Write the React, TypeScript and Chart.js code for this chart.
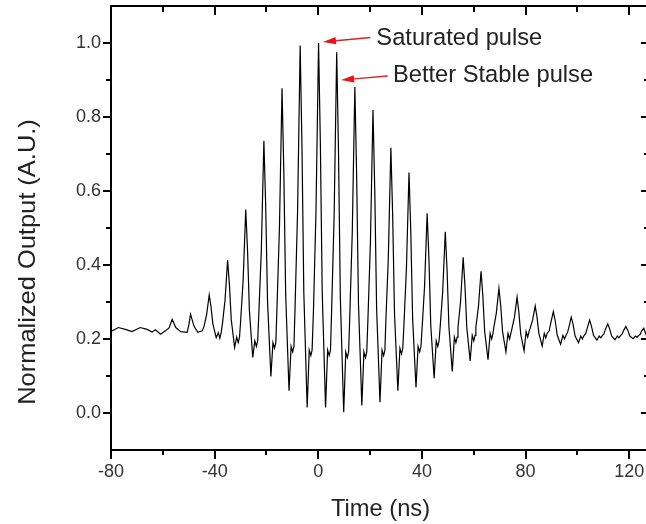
import React, { useEffect, useRef } from 'react';
import { Chart, registerables } from 'chart.js';

Chart.register(...registerables);

// Time axis (ns) and normalized output
const timeNs = [
  -80, -79.6, -77.1, -74.5, -71.9, -68.7, -66.1, -64.1, -62.9, -60.9, -59.0, -57.6,
  -56.4, -55.0, -53.1, -50.6, -49.9, -49.3, -48.0, -46.5, -44.8,
  -44.1, -43.1, -42.1, -41.4, -40.7, -39.4, -38.6, -38.0, -37.5,
  -37.0, -36.0, -35.0, -34.3, -33.6, -32.3, -31.5, -30.9, -30.4,
  -30.0, -29.0, -28.0, -27.3, -26.6, -25.3, -24.5, -23.9, -23.4,
  -23.0, -22.0, -21.0, -20.3, -19.6, -18.3, -17.5, -16.9, -16.4,
  -16.0, -15.0, -14.0, -13.3, -12.6, -11.3, -10.5, -9.9, -9.4,
  -9.0, -8.0, -7.0, -6.3, -5.6, -4.3, -3.5, -2.9, -2.4,
  -1.9, -0.9, 0.1, 0.8, 1.5, 2.8, 3.6, 4.2, 4.7,
  5.1, 6.1, 7.1, 7.8, 8.5, 9.8, 10.6, 11.2, 11.7,
  12.1, 13.1, 14.1, 14.8, 15.5, 16.8, 17.6, 18.2, 18.7,
  19.1, 20.1, 21.1, 21.8, 22.5, 23.8, 24.6, 25.2, 25.7,
  26.0, 27.0, 28.0, 28.7, 29.4, 30.7, 31.5, 32.1, 32.6,
  33.0, 34.0, 35.0, 35.7, 36.4, 37.7, 38.5, 39.1, 39.6,
  40.0, 41.0, 42.0, 42.7, 43.4, 44.7, 45.5, 46.1, 46.6,
  47.0, 48.0, 49.0, 49.7, 50.4, 51.7, 52.5, 53.1, 53.6,
  53.9, 54.9, 55.9, 56.6, 57.3, 58.6, 59.4, 60.0, 60.5,
  60.8, 61.8, 62.8, 63.5, 64.2, 65.5, 66.3, 66.9, 67.4,
  67.7, 68.7, 69.7, 70.4, 71.1, 72.4, 73.2, 73.8, 74.3,
  74.7, 75.7, 76.7, 77.4, 78.1, 79.4, 80.2, 80.8, 81.3,
  81.7, 82.7, 83.7, 84.4, 85.1, 86.4, 87.2, 87.8, 88.3,
  89.1, 89.7, 90.7, 91.4, 92.2, 93.5, 94.4, 95.0, 95.6,
  96.2, 96.8, 97.6, 98.3, 99.1, 100.4, 101.3, 101.9, 102.6,
  103.2, 103.9, 104.7, 105.4, 106.2, 107.5, 108.4, 109.0, 109.7,
  110.2, 110.9, 111.7, 112.4, 113.2, 114.5, 115.4, 116.0, 116.7,
  117.2, 117.9, 118.7, 119.4, 120.2, 121.5, 122.4, 123.0, 123.7,
  124.2, 124.8, 125.6, 126.3, 127.2, 128.0,
];

const output = [
  0.224, 0.222, 0.231, 0.226, 0.220, 0.231, 0.226, 0.219, 0.225, 0.213, 0.222, 0.230,
  0.253, 0.231, 0.220, 0.218, 0.240, 0.267, 0.235, 0.218, 0.222,
  0.234, 0.266, 0.319, 0.287, 0.241, 0.204, 0.217, 0.202, 0.217,
  0.241, 0.305, 0.413, 0.347, 0.253, 0.177, 0.205, 0.190, 0.205,
  0.246, 0.360, 0.550, 0.438, 0.278, 0.150, 0.195, 0.180, 0.195,
  0.260, 0.438, 0.736, 0.558, 0.303, 0.099, 0.190, 0.175, 0.190,
  0.273, 0.500, 0.878, 0.649, 0.322, 0.060, 0.180, 0.165, 0.180,
  0.278, 0.546, 0.993, 0.719, 0.328, 0.015, 0.170, 0.155, 0.170,
  0.270, 0.544, 1.000, 0.724, 0.330, 0.015, 0.170, 0.155, 0.170,
  0.267, 0.532, 0.975, 0.703, 0.313, 0.002, 0.165, 0.150, 0.165,
  0.251, 0.487, 0.881, 0.640, 0.296, 0.020, 0.165, 0.150, 0.165,
  0.243, 0.459, 0.819, 0.598, 0.282, 0.029, 0.170, 0.155, 0.170,
  0.236, 0.416, 0.717, 0.533, 0.270, 0.060, 0.175, 0.160, 0.175,
  0.232, 0.389, 0.650, 0.487, 0.255, 0.069, 0.180, 0.165, 0.180,
  0.223, 0.342, 0.540, 0.415, 0.237, 0.094, 0.195, 0.180, 0.195,
  0.230, 0.328, 0.490, 0.384, 0.233, 0.112, 0.205, 0.190, 0.205,
  0.231, 0.302, 0.421, 0.343, 0.231, 0.141, 0.210, 0.195, 0.210,
  0.231, 0.288, 0.383, 0.316, 0.220, 0.144, 0.215, 0.200, 0.215,
  0.230, 0.270, 0.337, 0.289, 0.220, 0.165, 0.215, 0.200, 0.215,
  0.227, 0.259, 0.313, 0.272, 0.214, 0.168, 0.220, 0.205, 0.220,
  0.228, 0.251, 0.289, 0.259, 0.216, 0.181, 0.215, 0.203, 0.215,
  0.222, 0.243, 0.274, 0.250, 0.210, 0.186, 0.210, 0.200, 0.210,
  0.218, 0.235, 0.259, 0.240, 0.208, 0.190, 0.208, 0.200, 0.210,
  0.215, 0.232, 0.251, 0.235, 0.210, 0.197, 0.208, 0.203, 0.210,
  0.214, 0.228, 0.241, 0.228, 0.208, 0.198, 0.208, 0.203, 0.210,
  0.213, 0.224, 0.234, 0.224, 0.208, 0.201, 0.208, 0.205, 0.210,
  0.212, 0.222, 0.229, 0.215, 0.202, 0.204,
];

const xTicks = [-80, -40, 0, 40, 80, 120];
const xMinorTicks = [-60, -20, 20, 60, 100];
const yTicks = [0, 0.2, 0.4, 0.6, 0.8, 1.0];
const yMinorTicks = [0.1, 0.3, 0.5, 0.7, 0.9];

const xTitle = 'Time (ns)';
const yTitle = 'Normalized Output (A.U.)';

const annotationTexts = ['Saturated pulse', 'Better Stable pulse'];
// [tipX, tipY, tailX, tailY, textX, textBaselineY] in data units
const annotationAnchors = [
  [1.8, 1.003, 20.1, 1.015, 22.4, 0.995],
  [8.8, 0.9, 26.8, 0.911, 28.8, 0.894],
];

const FONT = "'Liberation Sans', Arial, Helvetica, sans-serif";

const framePlugin = {
  id: 'originFrame',
  afterDatasetsDraw(chart: any) {
    const { ctx, chartArea } = chart;
    const { left, right, top, bottom } = chartArea;
    const xs = chart.scales.x;
    const ys = chart.scales.y;
    ctx.save();
    ctx.strokeStyle = '#000';
    ctx.lineWidth = 2;
    ctx.strokeRect(left, top, right - left, bottom - top);
    ctx.beginPath();
    xTicks.forEach((v) => {
      const p = Math.round(xs.getPixelForValue(v));
      ctx.moveTo(p, bottom); ctx.lineTo(p, bottom + 9);
      ctx.moveTo(p, top); ctx.lineTo(p, top + 9);
    });
    xMinorTicks.forEach((v) => {
      const p = Math.round(xs.getPixelForValue(v));
      ctx.moveTo(p, bottom); ctx.lineTo(p, bottom + 5);
      ctx.moveTo(p, top); ctx.lineTo(p, top + 6);
    });
    yTicks.forEach((v) => {
      const p = Math.round(ys.getPixelForValue(v));
      ctx.moveTo(left, p); ctx.lineTo(left - 8, p);
      ctx.moveTo(right, p); ctx.lineTo(right - 9, p);
    });
    yMinorTicks.forEach((v) => {
      const p = Math.round(ys.getPixelForValue(v));
      ctx.moveTo(left, p); ctx.lineTo(left - 5, p);
      ctx.moveTo(right, p); ctx.lineTo(right - 6, p);
    });
    ctx.stroke();

    // annotations
    annotationTexts.forEach((txt, i) => {
      const a = annotationAnchors[i];
      const tx = xs.getPixelForValue(a[0]);
      const ty = ys.getPixelForValue(a[1]);
      const sx = xs.getPixelForValue(a[2]);
      const sy = ys.getPixelForValue(a[3]);
      const ang = Math.atan2(ty - sy, tx - sx);
      const headLen = 13;
      const headW = 3.6;
      const bx = tx - headLen * Math.cos(ang);
      const by = ty - headLen * Math.sin(ang);
      ctx.strokeStyle = '#cc2a2a';
      ctx.lineWidth = 1.4;
      ctx.beginPath();
      ctx.moveTo(sx, sy);
      ctx.lineTo(bx, by);
      ctx.stroke();
      ctx.fillStyle = '#ee1111';
      ctx.beginPath();
      ctx.moveTo(tx, ty);
      ctx.lineTo(bx + headW * Math.sin(ang), by - headW * Math.cos(ang));
      ctx.lineTo(bx - headW * Math.sin(ang), by + headW * Math.cos(ang));
      ctx.closePath();
      ctx.fill();

      ctx.fillStyle = '#222';
      ctx.font = `23.7px ${FONT}`;
      ctx.textAlign = 'left';
      ctx.textBaseline = 'alphabetic';
      ctx.fillText(txt, xs.getPixelForValue(a[4]), ys.getPixelForValue(a[5]));
    });

    // y axis title (slightly stretched along its length, like the source image)
    ctx.save();
    ctx.translate(28, 262);
    ctx.rotate(-Math.PI / 2);
    ctx.scale(1.06, 1);
    ctx.fillStyle = '#222';
    ctx.font = `24px ${FONT}`;
    ctx.textAlign = 'center';
    ctx.textBaseline = 'middle';
    ctx.fillText(yTitle, 0, 0);
    ctx.restore();

    ctx.restore();
  },
};

export default function App() {
  const ref = useRef<HTMLCanvasElement | null>(null);
  useEffect(() => {
    if (!ref.current) return;
    const points = timeNs.map((t, i) => ({ x: t, y: output[i] }));
    const chart = new Chart(ref.current, {
      type: 'line',
      data: {
        datasets: [
          {
            data: points,
            borderColor: '#000',
            borderWidth: 1.2,
            pointRadius: 0,
            tension: 0,
            fill: false,
          },
        ],
      },
      options: {
        animation: false,
        responsive: false,
        events: [],
        layout: { padding: { top: 6, right: 6, left: 0, bottom: 0 } },
        plugins: { legend: { display: false }, tooltip: { enabled: false } },
        scales: {
          x: {
            type: 'linear',
            min: -80,
            max: 128,
            afterBuildTicks: (s: any) => {
              s.ticks = xTicks.map((v) => ({ value: v }));
            },
            afterFit: (s: any) => {
              s.height = 74;
              s.paddingLeft = 0;
              s.paddingRight = 0;
            },
            grid: { display: false, drawTicks: false },
            border: { display: false },
            ticks: {
              font: { family: FONT, size: 18 },
              color: '#333',
              padding: 11,
              maxRotation: 0,
              autoSkip: false,
              callback: (v: any) => String(v),
            },
            title: {
              display: true,
              text: xTitle,
              font: { family: FONT, size: 23.7 },
              color: '#222',
              padding: { top: 0, bottom: 0 },
            },
          },
          y: {
            type: 'linear',
            min: -0.1,
            max: 1.1,
            afterBuildTicks: (s: any) => {
              s.ticks = yTicks.map((v) => ({ value: v }));
            },
            afterFit: (s: any) => {
              s.width = 111;
              s.paddingTop = 0;
              s.paddingBottom = 0;
            },
            grid: { display: false, drawTicks: false },
            border: { display: false },
            ticks: {
              font: { family: FONT, size: 18 },
              color: '#333',
              padding: 10,
              autoSkip: false,
              callback: (v: any) => Number(v).toFixed(1),
            },
            title: { display: false },
          },
        },
      },
      plugins: [framePlugin],
    });
    return () => chart.destroy();
  }, []);

  return (
    <div
      style={{
        position: 'fixed',
        left: 0,
        top: 0,
        width: 646,
        height: 524,
        overflow: 'hidden',
        background: '#fff',
      }}
    >
      <canvas ref={ref} width={656} height={524} style={{ display: 'block' }} />
    </div>
  );
}
